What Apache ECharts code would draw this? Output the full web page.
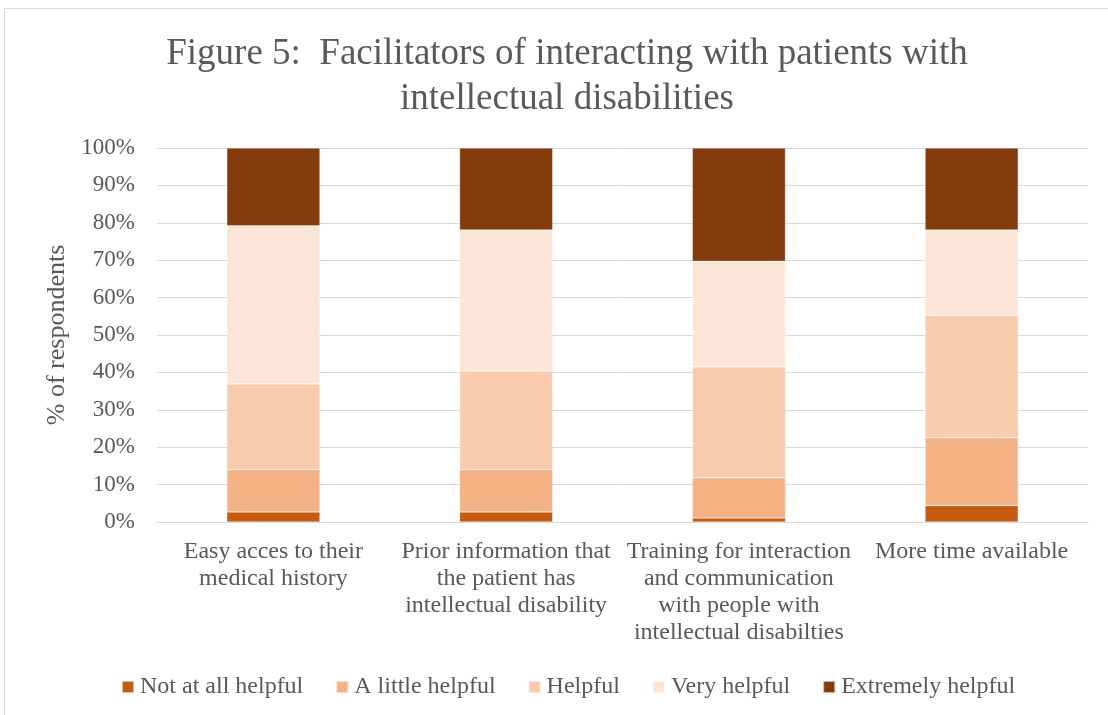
<!DOCTYPE html>
<html>
<head>
<meta charset="utf-8">
<script src="https://cdn.jsdelivr.net/npm/echarts@6/dist/echarts.min.js"></script>
<style>
  html, body { margin: 0; padding: 0; background: #fff; }
  #chart { width: 1108px; height: 715px; }
</style>
</head>
<body>
<div id="chart"></div>
<script>
// categories and values (% of respondents)
const categories = [
  'Easy acces to their\nmedical history',
  'Prior information that\nthe patient has\nintellectual disability',
  'Training for interaction\nand communication\nwith people with\nintellectual disabilties',
  'More time available'
];
const notAtAll = [2.7, 2.7, 1.1, 4.4];
const aLittle = [11.3, 11.3, 10.7, 18.1];
const helpful = [22.9, 26.4, 29.7, 32.7];
const veryHelpful = [42.3, 37.7, 28.2, 22.9];
const extremely = [20.8, 21.9, 30.3, 21.9];

const seriesNames = ['Not at all helpful', 'A little helpful', 'Helpful', 'Very helpful', 'Extremely helpful'];
const seriesData = [notAtAll, aLittle, helpful, veryHelpful, extremely];
const colors = ['#C55A11', '#F4B183', '#F8CBAD', '#FBE5D6', '#843C0C'];

const font = '"Liberation Serif", "Times New Roman", serif';
const textGray = '#595959';

var chart = echarts.init(document.getElementById('chart'));

var option = {
  animation: false,
  color: colors,
  title: {
    text: 'Figure 5:  Facilitators of interacting with patients with\nintellectual disabilities',
    left: 562,
    top: 27,
    textAlign: 'center',
    textStyle: {
      fontFamily: font,
      fontSize: 37,
      fontWeight: 'normal',
      color: textGray,
      lineHeight: 45
    }
  },
  graphic: [{
    type: 'rect',
    shape: { x: 4.5, y: 8.5, width: 1120, height: 720 },
    style: { fill: 'none', stroke: '#d9d9d9', lineWidth: 1 },
    silent: true
  }],
  legend: {
    bottom: 11,
    left: 116,
    itemWidth: 12,
    itemHeight: 12,
    itemGap: 32,
    icon: 'rect',
    textStyle: { fontFamily: font, fontSize: 24, color: textGray, padding: [0, 0, 0, 1] },
    data: seriesNames
  },
  grid: {
    left: 157,
    right: 20,
    top: 148,
    bottom: 193,
    containLabel: false
  },
  xAxis: {
    type: 'category',
    data: categories,
    axisLine: { lineStyle: { color: '#d9d9d9', width: 1 } },
    axisTick: { show: false },
    axisLabel: {
      fontFamily: font,
      fontSize: 24,
      color: textGray,
      lineHeight: 27,
      margin: 16,
      interval: 0
    }
  },
  yAxis: {
    type: 'value',
    min: 0,
    max: 100,
    interval: 10,
    name: '% of respondents',
    nameLocation: 'middle',
    nameGap: 76,
    nameTextStyle: { fontFamily: font, fontSize: 26, color: textGray },
    axisLine: { show: false },
    axisTick: { show: false },
    axisLabel: {
      formatter: '{value}%',
      fontFamily: font,
      fontSize: 23,
      color: textGray,
      margin: 22
    },
    splitLine: { lineStyle: { color: '#d9d9d9', width: 1 } }
  },
  series: seriesNames.map(function (name, i) {
    return {
      name: name,
      type: 'bar',
      stack: 'total',
      barWidth: '40%',
      data: seriesData[i],
      itemStyle: { borderColor: 'rgba(255,255,255,0.6)', borderWidth: 0.5 }
    };
  })
};

chart.setOption(option);
</script>
</body>
</html>
